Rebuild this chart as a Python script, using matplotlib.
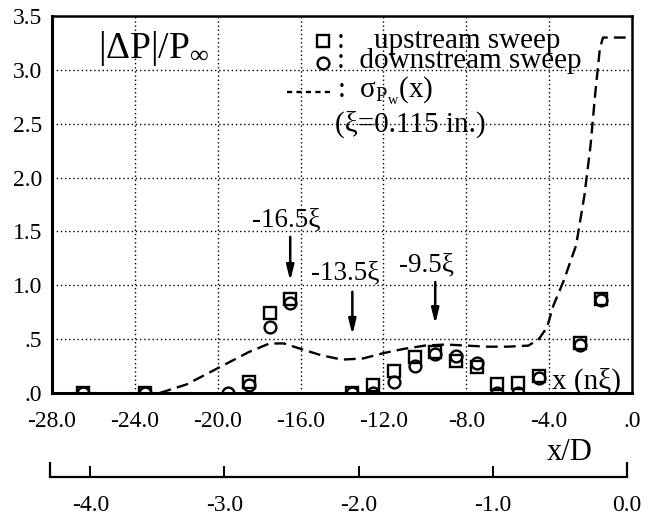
import numpy as np
import matplotlib
matplotlib.use("Agg")
import matplotlib.pyplot as plt
from matplotlib.ticker import FixedLocator

plt.rcParams['font.family'] = ['Liberation Serif', 'DejaVu Serif']
plt.rcParams['mathtext.fontset'] = 'custom'
plt.rcParams['mathtext.rm'] = 'Liberation Serif'
plt.rcParams['mathtext.it'] = 'Liberation Serif:italic'
plt.rcParams['mathtext.bf'] = 'Liberation Serif:bold'

# probe positions in units of xi
x_pos = [-26.5, -23.5, -19.5, -18.5, -17.5, -16.5, -13.5, -12.5, -11.5,
         -10.5, -9.5, -8.5, -7.5, -6.5, -5.5, -4.5, -2.5, -1.5]
upstream = [0.0, 0.0, np.nan, 0.10, 0.74, 0.87, 0.0, 0.07, 0.20,
            0.33, 0.38, 0.30, 0.24, 0.08, 0.09, 0.16, 0.46, 0.87]
downstream = [0.0, 0.0, 0.0, 0.07, 0.61, 0.84, 0.0, 0.0, 0.10,
              0.25, 0.36, 0.34, 0.28, 0.0, 0.0, 0.14, 0.45, 0.86]

# wall-pressure standard deviation sigma_Pw(x)
sigma_x = [-22.8, -21.5, -20.5, -19.5, -18.5, -17.5, -16.8, -16.0, -15.0,
           -14.0, -13.0, -12.0, -11.0, -10.0, -9.0, -8.0, -7.0, -6.0, -5.0,
           -4.5, -4.1, -3.8, -3.3, -2.7, -2.3, -2.0, -1.78, -1.55, -1.4, -0.3]
sigma_y = [0.0, 0.08, 0.18, 0.28, 0.38, 0.46, 0.46, 0.41, 0.35,
           0.31, 0.32, 0.37, 0.41, 0.44, 0.45, 0.44, 0.43, 0.43, 0.44,
           0.50, 0.61, 0.81, 1.04, 1.37, 1.83, 2.30, 2.77, 3.20, 3.30, 3.30]

# marked stations
stations = ['-16.5ξ', '-13.5ξ', '-9.5ξ']
station_x = [-16.5, -13.5, -9.5]
arrow_top = [1.45, 0.94, 1.03]
arrow_tip = [1.04, 0.54, 0.64]
label_x = [-16.7, -13.85, -9.9]
label_y = [1.61, 1.11, 1.19]

x_ticks = [-28, -24, -20, -16, -12, -8, -4, 0]
x_ticklabels = ['-28.0', '-24.0', '-20.0', '-16.0', '-12.0', '-8.0', '-4.0', '.0']
y_ticks = [0, 0.5, 1.0, 1.5, 2.0, 2.5, 3.0, 3.5]
y_ticklabels = ['.0', '.5', '1.0', '1.5', '2.0', '2.5', '3.0', '3.5']

xd_ticks = [-4, -3, -2, -1, 0]
xd_ticklabels = ['-4.0', '-3.0', '-2.0', '-1.0', '0.0']

W, H = 657, 521
fig = plt.figure(figsize=(W / 100, H / 100), dpi=100)
ax = fig.add_axes([52 / W, 1 - 393 / H, 580 / W, (393 - 16) / H])

ax.set_xlim(-28, 0)
ax.set_ylim(0, 3.5)
ax.set_xticks(x_ticks)
ax.set_xticklabels(x_ticklabels)
ax.set_yticks(y_ticks)
ax.set_yticklabels(y_ticklabels)
ax.tick_params(axis='both', length=0, labelsize=17)
ax.tick_params(axis='x', pad=13)
ax.tick_params(axis='y', pad=7)
for s in ax.spines.values():
    s.set_linewidth(1.8)
ax.spines['left'].set_linewidth(2.2)
ax.spines['bottom'].set_linewidth(2.2)

grid_style = dict(color='black', lw=1.0, linestyle=(0, (1, 2)))
for gx in x_ticks[1:-1]:
    ax.axvline(gx, **grid_style, zorder=1)
for gy in y_ticks[1:-1]:
    ax.axhline(gy, **grid_style, zorder=1)

dash = (0, (5, 2.6))
ax.plot(sigma_x, sigma_y, color='black', lw=1.7, linestyle=dash, zorder=3)
ax.plot(x_pos, upstream, linestyle='none', marker='s', ms=8, mfc='none',
        mec='black', mew=1.7, zorder=4)
ax.plot(x_pos, downstream, linestyle='none', marker='o', ms=8.5, mfc='none',
        mec='black', mew=1.7, zorder=4)

for lab, sx, top, tip, lx, ly in zip(stations, station_x, arrow_top, arrow_tip,
                                      label_x, label_y):
    ax.annotate('', xy=(sx, tip), xytext=(sx, top),
                arrowprops=dict(arrowstyle='-|>,head_length=0.9,head_width=0.22',
                                color='black', lw=1.8, shrinkA=0, shrinkB=0))
    ax.text(lx, ly, lab, fontsize=19.5, ha='center', va='center')

ax.text(-25.8, 3.2, r'|ΔP|/P$_{\infty}$', fontsize=27, ha='left', va='center')

# key
ax.plot([-14.92], [3.27], marker='s', ms=8, mfc='none', mec='black', mew=1.7,
        clip_on=False)
ax.plot([-14.92], [3.06], marker='o', ms=8.5, mfc='none', mec='black', mew=1.7,
        clip_on=False)
ax.plot([-16.65, -14.6], [2.79, 2.79], color='black', lw=1.7,
        linestyle=(0, (2.2, 1.8)))
key_text = dict(fontsize=21, ha='left', va='center')
ax.text(-14.25, 3.175, ':    upstream sweep\n:  downstream sweep',
        linespacing=0.72, multialignment='left', **key_text)
ax.text(-14.25, 2.80, r':  σ$_{\mathrm{P}_{\mathrm{w}}}$(x)', **key_text)
ax.text(-14.35, 2.49, '(ξ=0.115 in.)', **key_text)

ax.text(-3.85, 0.04, 'x (nξ)', fontsize=21, ha='left', va='baseline')

# secondary scale in x/D
ax2 = fig.add_axes([50 / W, 1 - 477 / H, 577 / W, 0.001])
ax2.set_xlim(-4.30, 0)
ax2.patch.set_visible(False)
for side in ['top', 'left', 'right']:
    ax2.spines[side].set_visible(False)
ax2.spines['bottom'].set_linewidth(1.6)
ax2.yaxis.set_visible(False)
ax2.set_xticks(xd_ticks)
ax2.set_xticklabels(xd_ticklabels)
ax2.xaxis.remove_overlapping_locs = False
ax2.xaxis.set_minor_locator(FixedLocator([-4.30, 0]))
ax2.tick_params(axis='x', which='major', direction='in', length=8, width=1.4,
                labelsize=17, pad=13)
ax2.tick_params(axis='x', which='minor', direction='in', length=11, width=1.6)
fig.text(570 / W, 1 - 452 / H, 'x/D', fontsize=22, ha='center', va='center')

fig.savefig('out.png', dpi=100)
